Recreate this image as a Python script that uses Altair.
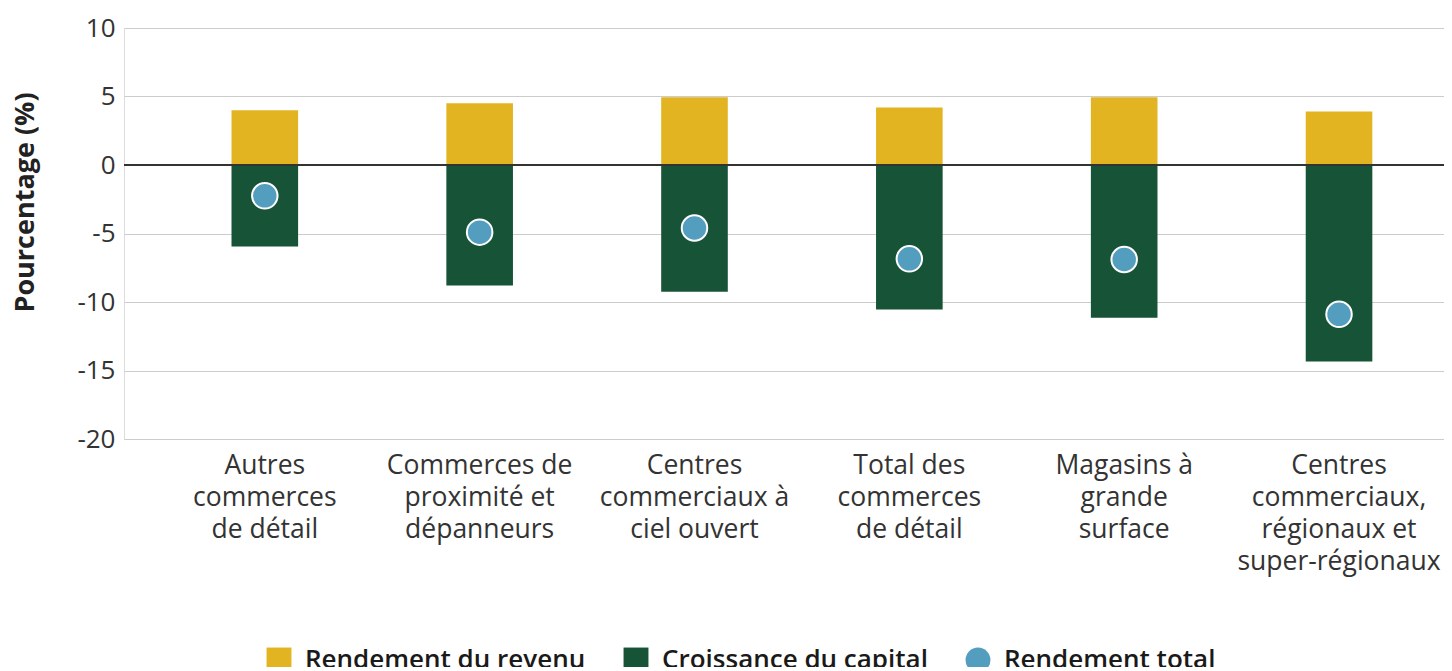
import json
import altair as alt
import pandas as pd

categories = [
    "Autres commerces de détail",
    "Commerces de proximité et dépanneurs",
    "Centres commerciaux à ciel ouvert",
    "Total des commerces de détail",
    "Magasins à grande surface",
    "Centres commerciaux, régionaux et super-régionaux",
]
label_lines = [
    ["Autres", "commerces", "de détail"],
    ["Commerces de", "proximité et", "dépanneurs"],
    ["Centres", "commerciaux à", "ciel ouvert"],
    ["Total des", "commerces", "de détail"],
    ["Magasins à", "grande", "surface"],
    ["Centres", "commerciaux,", "régionaux et", "super-régionaux"],
]
income = [4.0, 4.5, 4.95, 4.2, 4.95, 3.9]
capital = [-5.95, -8.8, -9.25, -10.55, -11.15, -14.35]
total = [-2.25, -4.9, -4.6, -6.85, -6.9, -10.9]

series = ["Rendement du revenu", "Croissance du capital", "Rendement total"]
colors = ["#E3B421", "#165337", "#539DBF"]
shapes = ["square", "square", "circle"]

bars = pd.DataFrame(
    [{"cat": c, "serie": series[0], "value": v} for c, v in zip(categories, income)]
    + [{"cat": c, "serie": series[1], "value": v} for c, v in zip(categories, capital)]
)
points = pd.DataFrame([{"cat": c, "serie": series[2], "value": v} for c, v in zip(categories, total)])

label_map = json.dumps(dict(zip(categories, label_lines)), ensure_ascii=False)

FONT = "Open Sans"

x_enc = alt.X(
    "cat:N",
    sort=categories,
    title=None,
    scale=alt.Scale(paddingInner=0.69, paddingOuter=0.417, align=0.6),
    axis=alt.Axis(
        labelExpr=f"{label_map}[datum.label]",
        labelAngle=0,
        labelFontSize=26.5,
        labelFont=FONT,
        labelFontWeight=400,
        labelColor="#333333",
        labelLineHeight=32,
        labelPadding=13,
        labelBaseline="top",
        labelOverlap=False,
        labelBound=False,
        labelLimit=400,
        ticks=False,
        domain=False,
        grid=False,
    ),
)

y_scale = alt.Scale(domain=[-20, 10], nice=False)
y_axis = alt.Axis(
    values=[-20, -15, -10, -5, 0, 5, 10],
    labelExpr="'' + datum.value",
    title="Pourcentage (%)",
    titleFont=FONT,
    titleFontSize=27,
    titleFontWeight="bold",
    titleColor="#222222",
    titleX=-99,
    titleY=174,
    titleBaseline="middle",
    titleAlign="center",
    titleAngle=270,
    labelFont=FONT,
    labelFontSize=26,
    labelFontWeight=400,
    labelColor="#333333",
    labelPadding=9,
    ticks=False,
    domain=False,
    gridColor="#cccccc",
    gridWidth=1,
)

color_scale = alt.Scale(domain=series, range=colors)
shape_scale = alt.Scale(domain=series, range=shapes)
legend = alt.Legend(
    title=None,
    orient="none",
    legendX=142,
    legendY=619,
    direction="horizontal",
    padding=0,
    labelFont=FONT,
    labelFontSize=26,
    labelFontWeight=600,
    labelColor="#1a1a1a",
    symbolSize=620,
    symbolStrokeWidth=0,
    labelOffset=13,
    columnPadding=37,
    labelLimit=500,
)

bar_layer = alt.Chart(bars).mark_bar().encode(
    x=x_enc,
    y=alt.Y("value:Q", scale=y_scale, axis=y_axis, stack=None),
    color=alt.Color("serie:N", scale=color_scale, legend=legend),
)

zero_rule = alt.Chart(bars).mark_rule(color="#333333", strokeWidth=2).encode(
    y=alt.datum(0)
)

point_layer = alt.Chart(points).mark_point(
    filled=True, size=650, stroke="white", strokeWidth=2, opacity=1
).encode(
    x=alt.X("cat:N", sort=categories),
    y=alt.Y("value:Q"),
    color=alt.Color("serie:N", scale=color_scale, legend=legend),
    shape=alt.Shape("serie:N", scale=shape_scale, legend=legend),
)

chart = (
    alt.layer(bar_layer, zero_rule, point_layer)
    .properties(
        width=1320,
        height=411,
        autosize=alt.AutoSizeParams(type="none"),
        padding={"left": 116, "top": 20, "right": 0, "bottom": 228},
    )
    .configure_view(stroke=None)
    .configure(font=FONT)
)

chart.save("out.html", embed_options={"renderer": "svg", "actions": False})
